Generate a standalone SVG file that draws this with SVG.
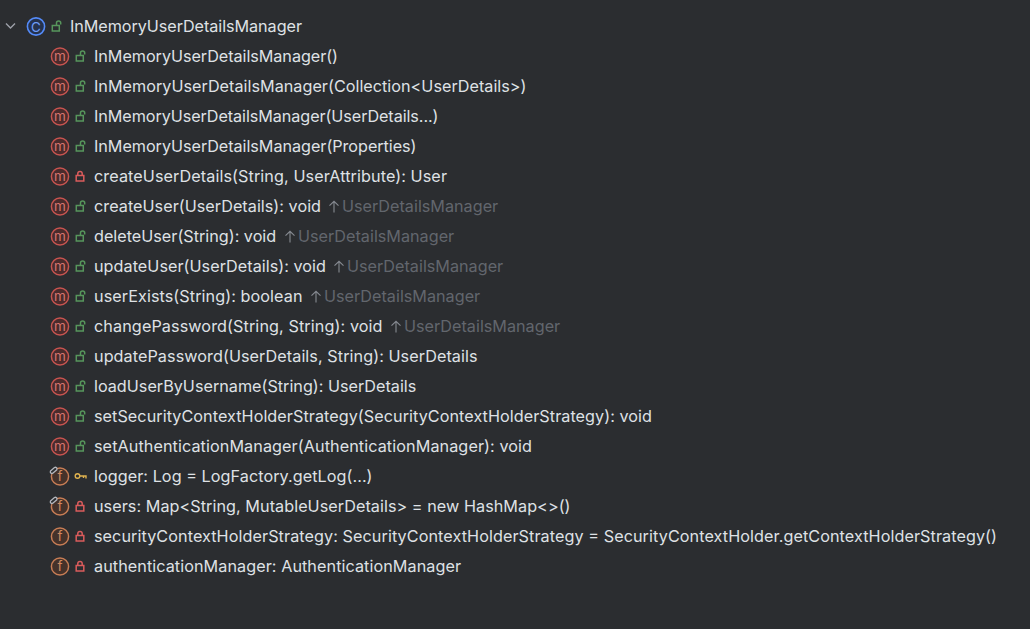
<svg xmlns="http://www.w3.org/2000/svg" width="1030" height="629" viewBox="0 0 1030 629">
<style>
text{font-family:Inter,"Noto Sans",sans-serif;font-size:16.2px;fill:#dfe1e5}
.g{fill:#62666d}
.ic{font-size:13.500px;text-anchor:middle}
.m{fill:#4b2b2c;stroke:#c75450;stroke-width:1.500}
.mt{fill:#d8756f}
.f{fill:#45322a;stroke:#c77d55;stroke-width:1.500}
.ft{fill:#d08a62}
.lg{fill:none;stroke:#57965c;stroke-width:1.500}
.lr{fill:none;stroke:#db5c5c;stroke-width:1.500}
</style>
<defs>
<g id="open"><rect x="-4.700" y="-1" width="7" height="5.500" class="lg"/><path d="M-.5-1V-3.500a2.100 2.100 0 0 1 4.200 0V-2" class="lg"/></g>
<g id="closed"><rect x="-3.800" y="-1" width="7.600" height="5.500" class="lr"/><path d="M-2.200-1V-2.900a2.200 2.200 0 0 1 4.400 0V-1" class="lr"/></g>
<g id="mi"><circle r="8.600" class="m"/><text class="ic mt" y="4.200">m</text></g>
<g id="fi"><circle r="8.600" class="f"/><text class="ic ft" y="4.800">f</text></g>
<g id="pin"><path d="M-9.500-5.500l4-3.500a1.700 1.700 0 0 1 2.300 2.300l-4 3.500a1.700 1.700 0 0 1-2.300-2.300z" fill="#2b2d30" stroke="#b4b8bf" stroke-width="1.300"/></g>
<path id="up" d="M0 6V-5M-4.500-.8L0-5.200 4.500-.8" fill="none" stroke="#868a91" stroke-width="1.100"/>
</defs>
<rect width="1030" height="629" fill="#2b2d30"/>
<g id="connectors"/>
<g id="root">
<path d="M6 23.500l4.500 4.500 4.500-4.500" fill="none" stroke="#9da0a8" stroke-width="1.400"/>
<circle cx="36" cy="26.500" r="8.600" fill="#25324d" stroke="#548af7" stroke-width="1.600"/>
<text class="ic" x="36" y="31.500" style="fill:#6e9cf7">C</text>
<use href="#open" x="57" y="26.500"/>
<text x="70" y="32" textLength="232">InMemoryUserDetailsManager</text>
</g>
<g id="n1"><use href="#mi" x="60" y="56.500"/><use href="#open" x="81" y="56.500"/><text x="94" y="62" textLength="244">InMemoryUserDetailsManager()</text></g>
<g id="n2"><use href="#mi" x="60" y="86.500"/><use href="#open" x="81" y="86.500"/><text x="94" y="92" textLength="432.500">InMemoryUserDetailsManager(Collection&lt;UserDetails&gt;)</text></g>
<g id="n3"><use href="#mi" x="60" y="116.500"/><use href="#open" x="81" y="116.500"/><text x="94" y="122" textLength="344.500">InMemoryUserDetailsManager(UserDetails...)</text></g>
<g id="n4"><use href="#mi" x="60" y="146.500"/><use href="#open" x="81" y="146.500"/><text x="94" y="152" textLength="322.500">InMemoryUserDetailsManager(Properties)</text></g>
<g id="n5"><use href="#mi" x="60" y="176.500"/><use href="#closed" x="80" y="176.500"/><text x="94" y="182" textLength="353">createUserDetails(String, UserAttribute): User</text></g>
<g id="n6"><use href="#mi" x="60" y="206.500"/><use href="#open" x="81" y="206.500"/><text x="94" y="212" textLength="227">createUser(UserDetails): void</text><use href="#up" x="334" y="206.500"/><text class="g" x="342" y="212">UserDetailsManager</text></g>
<g id="n7"><use href="#mi" x="60" y="236.500"/><use href="#open" x="81" y="236.500"/><text x="94" y="242">deleteUser(String): void</text><use href="#up" x="290" y="236.500"/><text class="g" x="298" y="242">UserDetailsManager</text></g>
<g id="n8"><use href="#mi" x="60" y="266.500"/><use href="#open" x="81" y="266.500"/><text x="94" y="272" textLength="232">updateUser(UserDetails): void</text><use href="#up" x="339" y="266.500"/><text class="g" x="347" y="272">UserDetailsManager</text></g>
<g id="n9"><use href="#mi" x="60" y="296.500"/><use href="#open" x="81" y="296.500"/><text x="94" y="302" textLength="208.500">userExists(String): boolean</text><use href="#up" x="316" y="296.500"/><text class="g" x="324" y="302">UserDetailsManager</text></g>
<g id="n10"><use href="#mi" x="60" y="326.500"/><use href="#open" x="81" y="326.500"/><text x="94" y="332" textLength="288.500">changePassword(String, String): void</text><use href="#up" x="396" y="326.500"/><text class="g" x="404" y="332">UserDetailsManager</text></g>
<g id="n11"><use href="#mi" x="60" y="356.500"/><use href="#open" x="81" y="356.500"/><text x="94" y="362" textLength="383.500">updatePassword(UserDetails, String): UserDetails</text></g>
<g id="n12"><use href="#mi" x="60" y="386.500"/><use href="#open" x="81" y="386.500"/><text x="94" y="392">loadUserByUsername(String): UserDetails</text></g>
<g id="n13"><use href="#mi" x="60" y="416.500"/><use href="#open" x="81" y="416.500"/><text x="94" y="422" textLength="558">setSecurityContextHolderStrategy(SecurityContextHolderStrategy): void</text></g>
<g id="n14"><use href="#mi" x="60" y="446.500"/><use href="#open" x="81" y="446.500"/><text x="94" y="452" textLength="438">setAuthenticationManager(AuthenticationManager): void</text></g>
<g id="n15"><use href="#fi" x="60" y="476.500"/><use href="#pin" x="60" y="476.500"/><g fill="none" stroke="#e0b34f" stroke-width="1.400"><circle cx="77.500" cy="476" r="2.300"/><path d="M80 476h6v2.500M83.500 476v2"/></g><text x="94" y="482" textLength="278.500">logger: Log = LogFactory.getLog(...)</text></g>
<g id="n16"><use href="#fi" x="60" y="506.500"/><use href="#pin" x="60" y="506.500"/><use href="#closed" x="80" y="506.500"/><text x="94" y="512" textLength="476.500">users: Map&lt;String, MutableUserDetails&gt; = new HashMap&lt;&gt;()</text></g>
<g id="n17"><use href="#fi" x="60" y="536.500"/><use href="#closed" x="80" y="536.500"/><text x="94" y="542" textLength="903">securityContextHolderStrategy: SecurityContextHolderStrategy = SecurityContextHolder.getContextHolderStrategy()</text></g>
<g id="n18"><use href="#fi" x="60" y="566.500"/><use href="#closed" x="80" y="566.500"/><text x="94" y="572" textLength="367">authenticationManager: AuthenticationManager</text></g>
</svg>
